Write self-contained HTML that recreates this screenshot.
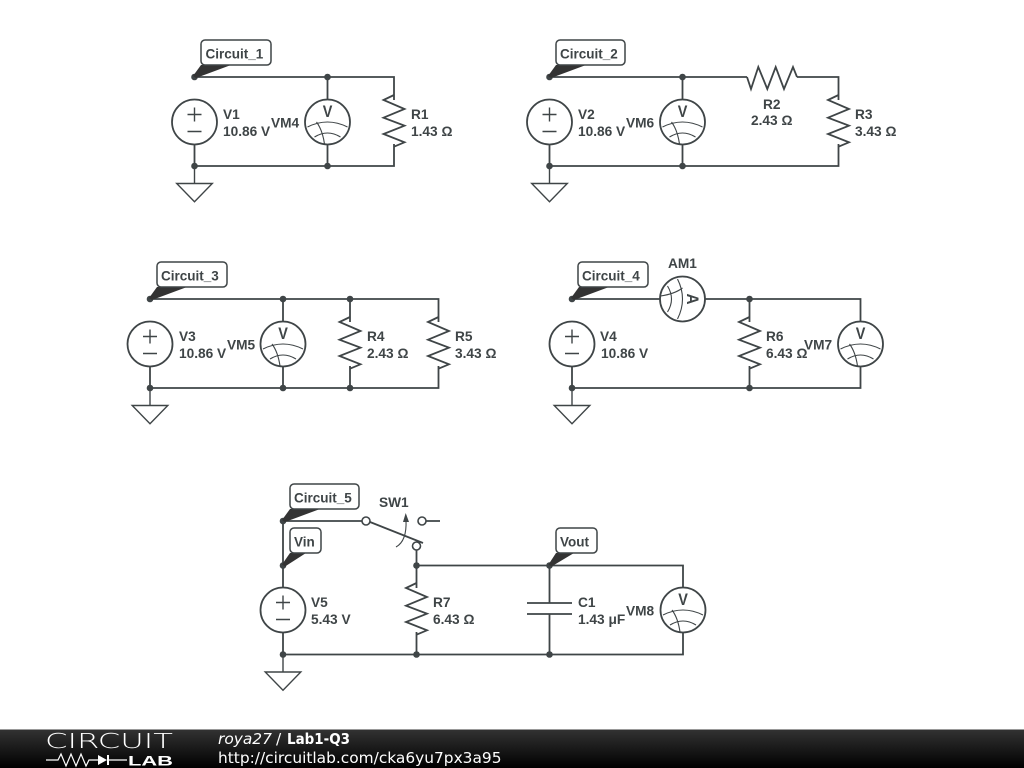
<!DOCTYPE html>
<html><head><meta charset="utf-8"><style>
html,body{margin:0;padding:0;background:#fff;overflow:hidden}
svg{display:block}
.l{font:bold 13.7px "Liberation Sans",sans-serif;fill:#3f4547}
.w{fill:none;stroke:#3f4547;stroke-width:1.8}
.s{fill:none;stroke:#3f4547;stroke-width:1.4}
.thin{fill:none;stroke:#3f4547;stroke-width:1.1}
.tag{fill:#fff;stroke:#3f4547;stroke-width:1.5}
.t{font:bold 13.5px "Liberation Sans",sans-serif;fill:#3f4547}
.v{font:bold 17px "Liberation Sans",sans-serif;fill:#3f4547;text-anchor:middle}
.f{font:15.4px "DejaVu Sans",sans-serif;fill:#fff}
</style></head><body>
<svg width="1024" height="768" viewBox="0 0 1024 768" xmlns="http://www.w3.org/2000/svg">
<defs>
<linearGradient id="g" x1="0" y1="0" x2="0" y2="1"><stop offset="0" stop-color="#333"/><stop offset="1" stop-color="#000"/></linearGradient>
<g id="src"><circle r="22.500" fill="#fff" stroke="#3f4547" stroke-width="1.800"/><path class="s" d="M-7,-7.500H7M0,-14.500V-.5M-7,9.500H7"/></g>
<g id="gnd"><path class="s" d="M0,0V17.500M-17.800,17.500H17.800L0,35.800Z"/></g>
<g id="vm"><circle r="22.500" fill="#fff" stroke="#3f4547" stroke-width="1.800"/>
<path class="thin" d="M-20,5Q0,-5 20,5M-13,15Q0,7 13,15M-11,0Q-5,8 -3,22"/></g>
<g id="rv"><path class="w" d="M0,-27L-10.500,-22L10.500,-13L-10.500,-4.300L10.500,3.700L-10.500,12L10.500,20.300L0,24.700"/></g>
<g id="rh"><path class="w" d="M-24,0L-20,12L-12.700,-10L-3.700,12L4.700,-10L13,12L22,-10L26,0"/></g>
<circle id="d" r="3.300" fill="#3f4547"/>
</defs>

<!-- Circuit 1 -->
<path class="w" d="M194.500,77H394V100M394,144V166H194.500V100M327.500,77V100M327.500,144V166"/>
<use href="#src" x="194.500" y="122"/><use href="#vm" x="327.500" y="122"/><use href="#rv" x="394" y="122"/><use href="#gnd" x="194.500" y="166"/>
<use href="#d" x="194.500" y="77"/><use href="#d" x="327.500" y="77"/><use href="#d" x="194.500" y="166"/><use href="#d" x="327.500" y="166"/>
<path fill="#333" d="M193,76L201,65H231L196,78Z"/><rect class="tag" x="201" y="40" width="70" height="25" rx="4"/>
<text class="t" x="205.500" y="58.500">Circuit_1</text>
<text class="l" x="223" y="119">V1</text><text class="l" x="223" y="136">10.86 V</text><text class="l" x="271" y="127.500">VM4</text><text class="l" x="411" y="119">R1</text><text class="l" x="411" y="136">1.43 Ω</text>
<text class="v" transform="translate(327.500,117) scale(.85,1)">V</text>

<!-- Circuit 2 -->
<path class="w" d="M549.500,77H747M797,77H838.500V100M838.500,144V166H549.500V100M682.500,77V100M682.500,144V166"/>
<use href="#src" x="549.500" y="122"/><use href="#vm" x="682.500" y="122"/><use href="#rh" x="771" y="77"/><use href="#rv" x="838.500" y="122"/><use href="#gnd" x="549.500" y="166"/>
<use href="#d" x="549.500" y="77"/><use href="#d" x="682.500" y="77"/><use href="#d" x="549.500" y="166"/><use href="#d" x="682.500" y="166"/>
<path fill="#333" d="M548,76L556,65H586L551,78Z"/><rect class="tag" x="556" y="40" width="69" height="25" rx="4"/>
<text class="t" x="560" y="58.500">Circuit_2</text>
<text class="l" x="578" y="119">V2</text><text class="l" x="578" y="136">10.86 V</text><text class="l" x="626" y="127.500">VM6</text>
<text class="l" x="763" y="109">R2</text><text class="l" x="751" y="125">2.43 Ω</text><text class="l" x="855" y="119">R3</text><text class="l" x="855" y="136">3.43 Ω</text>
<text class="v" transform="translate(682.500,117) scale(.85,1)">V</text>

<!-- Circuit 3 -->
<path class="w" d="M150,299H438.500V322M438.500,366V388H150V322M283,299V322M283,366V388M350,299V322M350,366V388"/>
<use href="#src" x="150" y="344"/><use href="#vm" x="283" y="344"/><use href="#rv" x="350" y="344"/><use href="#rv" x="438.500" y="344"/><use href="#gnd" x="150" y="388"/>
<use href="#d" x="150" y="299"/><use href="#d" x="283" y="299"/><use href="#d" x="350" y="299"/><use href="#d" x="150" y="388"/><use href="#d" x="283" y="388"/><use href="#d" x="350" y="388"/>
<path fill="#333" d="M149,298L157,287H187L152,300Z"/><rect class="tag" x="157" y="262" width="70" height="25" rx="4"/>
<text class="t" x="161" y="280.500">Circuit_3</text>
<text class="l" x="179" y="341">V3</text><text class="l" x="179" y="358">10.86 V</text><text class="l" x="227" y="349.500">VM5</text>
<text class="l" x="367" y="341">R4</text><text class="l" x="367" y="358">2.43 Ω</text><text class="l" x="455" y="341">R5</text><text class="l" x="455" y="358">3.43 Ω</text>
<text class="v" transform="translate(283,339) scale(.85,1)">V</text>

<!-- Circuit 4 -->
<path class="w" d="M572,299H660M705,299H860.500V322M860.500,366V388H572V322M749.500,299V322M749.500,366V388"/>
<use href="#src" x="572" y="344"/><use href="#vm" x="860.500" y="344"/><use href="#rv" x="749.500" y="344"/><use href="#gnd" x="572" y="388"/>
<g transform="translate(682.500,299) rotate(90)"><use href="#vm"/></g>
<use href="#d" x="572" y="299"/><use href="#d" x="749.500" y="299"/><use href="#d" x="572" y="388"/><use href="#d" x="749.500" y="388"/>
<path fill="#333" d="M571,298L579,287H609L574,300Z"/><rect class="tag" x="578" y="262" width="70" height="25" rx="4"/>
<text class="t" x="582" y="280.500">Circuit_4</text>
<text class="l" x="600" y="341">V4</text><text class="l" x="601" y="358">10.86 V</text><text class="l" x="668" y="268">AM1</text>
<text class="l" x="766" y="341">R6</text><text class="l" x="766" y="358">6.43 Ω</text><text class="l" x="804" y="349.500">VM7</text>
<text class="v" transform="translate(860.500,339) scale(.85,1)">V</text>
<text class="v" transform="translate(687,299) rotate(90) scale(.9,1)">A</text>

<!-- Circuit 5 -->
<path class="w" d="M283,521H362M283,521V588M283,632V654.500H683V632M683,588V565.500H416.500V550M416.500,565.500V588M416.500,632V654.500M549.500,565.500V603M549.500,614V654.500M527,603H572M527,614H572M426,521H440"/>
<path class="w" d="M370,522L423,543"/>
<circle cx="366" cy="521" r="4" fill="#fff" stroke="#3f4547" stroke-width="1.600"/><circle cx="422" cy="521" r="4" fill="#fff" stroke="#3f4547" stroke-width="1.600"/><circle cx="416.500" cy="546" r="4" fill="#fff" stroke="#3f4547" stroke-width="1.600"/>
<path class="thin" d="M396,547Q407,541 406,520"/><path fill="#3f4547" d="M405.700,513L403,522H409Z"/>
<use href="#src" x="283" y="610"/><use href="#vm" x="683" y="610"/><use href="#rv" x="416.500" y="610"/><use href="#gnd" x="283" y="654.500"/>
<use href="#d" x="283" y="521"/><use href="#d" x="283" y="565.500"/><use href="#d" x="416.500" y="565.500"/><use href="#d" x="549.500" y="565.500"/><use href="#d" x="283" y="654.500"/><use href="#d" x="416.500" y="654.500"/><use href="#d" x="549.500" y="654.500"/>
<path fill="#333" d="M282,520L290,509H320L285,522Z"/><rect class="tag" x="290" y="484" width="69" height="25" rx="4"/>
<text class="t" x="294" y="502.500">Circuit_5</text>
<path fill="#333" d="M282,564.500L290,553H306L285,566.500Z"/><rect class="tag" x="290" y="528" width="31" height="25" rx="4"/>
<text class="t" x="294" y="546.500">Vin</text>
<path fill="#333" d="M548.500,564.500L556,553H574L551.500,566.500Z"/><rect class="tag" x="556" y="528" width="41" height="25" rx="4"/>
<text class="t" x="560" y="546.500">Vout</text>
<text class="l" x="379" y="507">SW1</text>
<text class="l" x="311" y="607">V5</text><text class="l" x="311" y="624">5.43 V</text>
<text class="l" x="433" y="607">R7</text><text class="l" x="433" y="624">6.43 Ω</text>
<text class="l" x="578" y="607">C1</text><text class="l" x="578" y="624">1.43 μF</text><text class="l" x="626" y="615.500">VM8</text>
<text class="v" transform="translate(683,605) scale(.85,1)">V</text>

<!-- Footer -->
<rect x="0" y="729" width="1024" height="39" fill="url(#g)"/>
<rect x="0" y="729" width="1024" height="1" fill="#999"/>
<text x="45" y="748" textLength="128" lengthAdjust="spacingAndGlyphs" style="font:200 20.500px 'DejaVu Sans ExtraLight','DejaVu Sans Light','Liberation Sans',sans-serif;fill:#fff">CIRCUIT</text>
<path fill="none" stroke="#fff" stroke-width="1.200" d="M46,760H58L61,754L66,766L71,754L76,766L81,754L86,766L89,760H98M109,760H127"/>
<path fill="#fff" d="M98,755V765L107,760ZM107,755H109V765H107Z"/>
<text x="128" y="765.500" textLength="45" lengthAdjust="spacingAndGlyphs" style="font:bold 13.500px 'Liberation Sans',sans-serif;fill:#fff">LAB</text>
<text class="f" x="218" y="744" style="font-style:italic">roya27</text>
<text class="f" x="276" y="744">/</text>
<text class="f" x="287" y="744" style="font-weight:bold" textLength="63" lengthAdjust="spacingAndGlyphs">Lab1-Q3</text>
<text class="f" x="218" y="763">http://circuitlab.com/cka6yu7px3a95</text>
</svg>
</body></html>
